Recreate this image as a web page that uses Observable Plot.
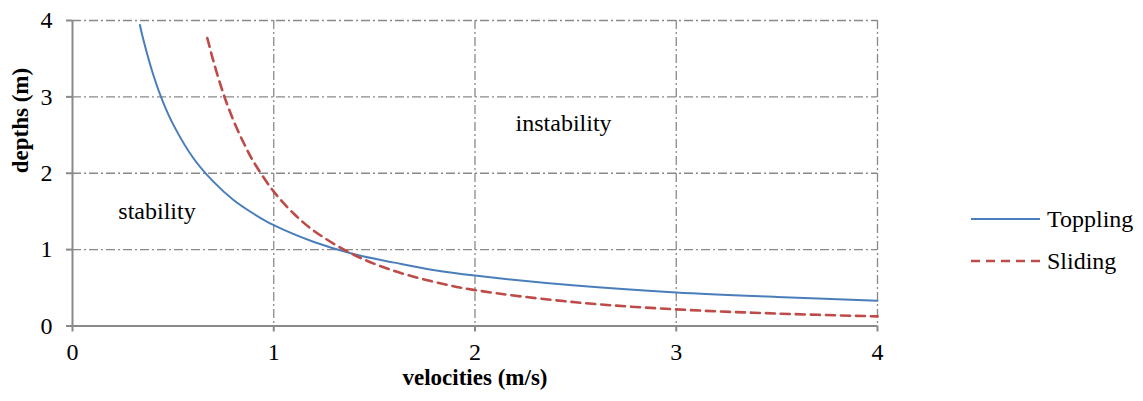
<!DOCTYPE html>
<html><head><meta charset="utf-8">
<script src="https://cdn.jsdelivr.net/npm/d3@7"></script>
<script src="https://cdn.jsdelivr.net/npm/@observablehq/plot@0.6"></script>
<style>
body{margin:0;background:#fff;font-family:'Liberation Serif','Times New Roman',Times,serif;}
#wrap{position:relative;width:1143px;height:401px;}
.legend{position:absolute;left:971px;top:198px;font-size:24px;color:#000;font-family:'Liberation Serif','Times New Roman',Times,serif;}
.item{display:flex;align-items:center;height:42px;}
.item svg{margin-right:7px;}
svg text{font-family:'Liberation Serif','Times New Roman',Times,serif;}
</style>
</head><body><div id="wrap"></div>
<script>
const xTicks = [0, 1, 2, 3, 4];
const yTicks = [0, 1, 2, 3, 4];
const seriesNames = ["Toppling", "Sliding"];
const seriesColors = ["#4a7ebb", "#be4b48"];
const seriesDash = ["none", "9,6"];
const topplingV = [0.335,0.35,0.4,0.45,0.5,0.6,0.7,0.8,0.9,1.0,1.2,1.4,1.6,1.8,2.0,2.5,3.0,3.5,4.0];
const topplingH = [3.94,3.77,3.30,2.93,2.64,2.20,1.89,1.65,1.47,1.32,1.10,0.94,0.83,0.73,0.66,0.53,0.44,0.38,0.33];
const slidingV = [0.67,0.7,0.75,0.8,0.85,0.9,1.0,1.1,1.2,1.4,1.6,1.8,2.0,2.5,3.0,3.5,4.0];
const slidingH = [3.77,3.47,3.04,2.69,2.40,2.15,1.76,1.47,1.245,0.93,0.72,0.576,0.47,0.31,0.218,0.163,0.126];
const regionLabels = ["stability", "instability"];
const regionV = [0.42, 2.44];
const regionH = [1.5, 2.65];

const toppling = topplingV.map((v, i) => ({v, h: topplingH[i]}));
const sliding = slidingV.map((v, i) => ({v, h: slidingH[i]}));
const regions = regionLabels.map((t, i) => ({t, v: regionV[i], h: regionH[i]}));
const grey = "#898989";
const gridDash = "9,3,2,3";
const fam = "'Liberation Serif', 'Times New Roman', Times, serif";

const chart = Plot.plot({
  width: 1143, height: 401,
  marginLeft: 72, marginRight: 266, marginTop: 20, marginBottom: 75.5,
  style: {fontFamily: fam, fontSize: "24px", color: "#000", background: "#fff"},
  x: {domain: [0, 4]},
  y: {domain: [0, 4]},
  marks: [
    Plot.gridX(xTicks.slice(1), {stroke: grey, strokeOpacity: 1, strokeWidth: 1.3, strokeDasharray: gridDash}),
    Plot.gridY(yTicks.slice(1), {stroke: grey, strokeOpacity: 1, strokeWidth: 1.3, strokeDasharray: gridDash}),
    Plot.ruleX([0], {stroke: grey, strokeWidth: 2}),
    Plot.ruleY([0], {stroke: grey, strokeWidth: 2}),
    Plot.axisX({ticks: xTicks, tickFormat: d3.format("d"), tickSize: 6, tickPadding: 11, stroke: grey, strokeWidth: 2, label: null, fontSize: 24, fill: "#000"}),
    Plot.axisY({ticks: yTicks, tickFormat: d3.format("d"), tickSize: 6, tickPadding: 14, stroke: grey, strokeWidth: 2, label: null, fontSize: 24, fill: "#000"}),
    Plot.line(toppling, {x: "v", y: "h", stroke: seriesColors[0], strokeWidth: 2, curve: "catmull-rom"}),
    Plot.line(sliding, {x: "v", y: "h", stroke: seriesColors[1], strokeWidth: 2.6, strokeDasharray: seriesDash[1], curve: "catmull-rom"}),
    Plot.text(regions, {x: "v", y: "h", text: "t", fontSize: 24, fill: "#000"}),
    Plot.text(["velocities (m/s)"], {frameAnchor: "bottom", dy: 59, fontWeight: "bold", fontSize: 23, fill: "#000"}),
    Plot.text(["depths (m)"], {frameAnchor: "left", dx: -52, rotate: -90, fontWeight: "bold", fontSize: 23, fill: "#000"})
  ]
});
const wrap = document.getElementById("wrap");
wrap.appendChild(chart);

const legend = document.createElement("div");
legend.className = "legend";
seriesNames.forEach((name, i) => {
  const item = document.createElement("div");
  item.className = "item";
  item.innerHTML = `<svg width="69" height="6"><line x1="0" y1="3" x2="69" y2="3" stroke="${seriesColors[i]}" stroke-width="${i ? 2.6 : 2}" stroke-dasharray="${seriesDash[i]}"/></svg><span>${name}</span>`;
  legend.appendChild(item);
});
wrap.appendChild(legend);
</script>
</body></html>
